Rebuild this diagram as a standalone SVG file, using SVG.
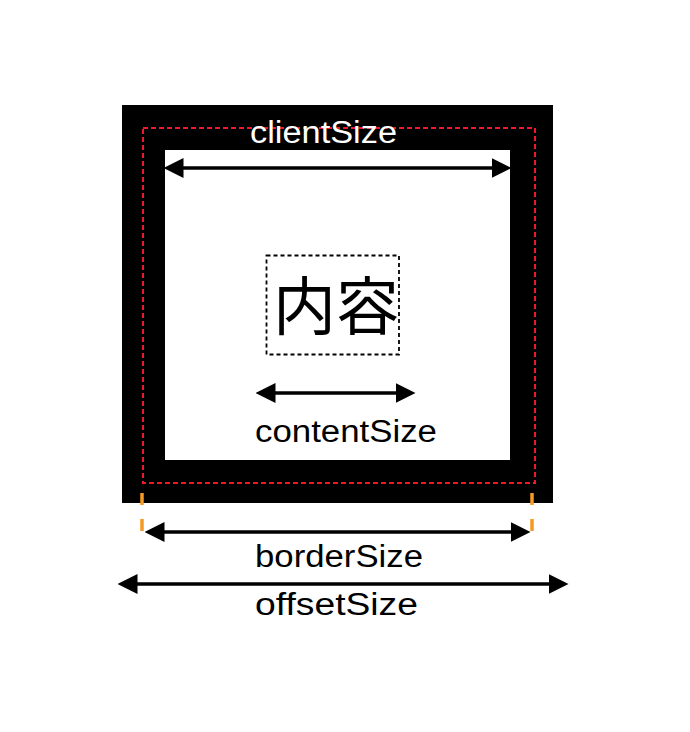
<svg xmlns="http://www.w3.org/2000/svg" width="690" height="732" viewBox="0 0 690 732">
<style>
.lbl{font-family:"Liberation Sans",Arial,sans-serif;font-size:31px;fill:#000}
.cjk{font-family:"Noto Sans CJK JP","Noto Sans CJK SC",sans-serif;font-size:63px;fill:#000}
.arrow{stroke:#000;stroke-width:3.5;fill:none;marker-start:url(#ah);marker-end:url(#ah)}
.reddash{fill:none;stroke:#f0182a;stroke-width:2;stroke-dasharray:5 3}
.blkdash{fill:none;stroke:#000;stroke-width:1.8;stroke-dasharray:4 3}
.orange{stroke:#f59a25;stroke-width:3.5;stroke-dasharray:12 14}
</style>
<defs>
<marker id="ah" markerUnits="userSpaceOnUse" markerWidth="20" markerHeight="20" viewBox="0 0 16 16" refX="6" refY="8" orient="auto-start-reverse">
<path d="M0,0 L16,8 L0,16 Z" fill="#000"/>
</marker>
</defs>
<rect width="690" height="732" fill="#fff"/>
<g id="border-box">
<rect x="122" y="105" width="431" height="398" fill="#000"/>
<rect x="165" y="150" width="345" height="310" fill="#fff"/>
</g>
<g id="client-outline">
<rect class="reddash" x="143" y="128" width="392" height="355"/>
</g>
<g id="content">
<rect class="blkdash" x="266.5" y="255.5" width="132.5" height="99"/>
<text class="cjk" x="336" y="329" text-anchor="middle">内容</text>
</g>
<g id="orange-marks">
<line class="orange" x1="142" y1="493" x2="142" y2="532"/>
<line class="orange" x1="532" y1="493" x2="532" y2="532"/>
</g>
<g id="connectors">
<line class="arrow" x1="176" y1="168" x2="499" y2="168"/>
<line class="arrow" x1="268" y1="393" x2="403" y2="393"/>
<line class="arrow" x1="157" y1="532" x2="518" y2="532"/>
<line class="arrow" x1="130" y1="584" x2="556" y2="584"/>
</g>
<g id="labels">
<text class="lbl" x="250" y="143" textLength="147" lengthAdjust="spacingAndGlyphs" style="fill:#fff">clientSize</text>
<text class="lbl" x="255" y="442" textLength="182" lengthAdjust="spacingAndGlyphs">contentSize</text>
<text class="lbl" x="255" y="567" textLength="168" lengthAdjust="spacingAndGlyphs">borderSize</text>
<text class="lbl" x="255" y="615" textLength="163" lengthAdjust="spacingAndGlyphs">offsetSize</text>
</g>
</svg>
